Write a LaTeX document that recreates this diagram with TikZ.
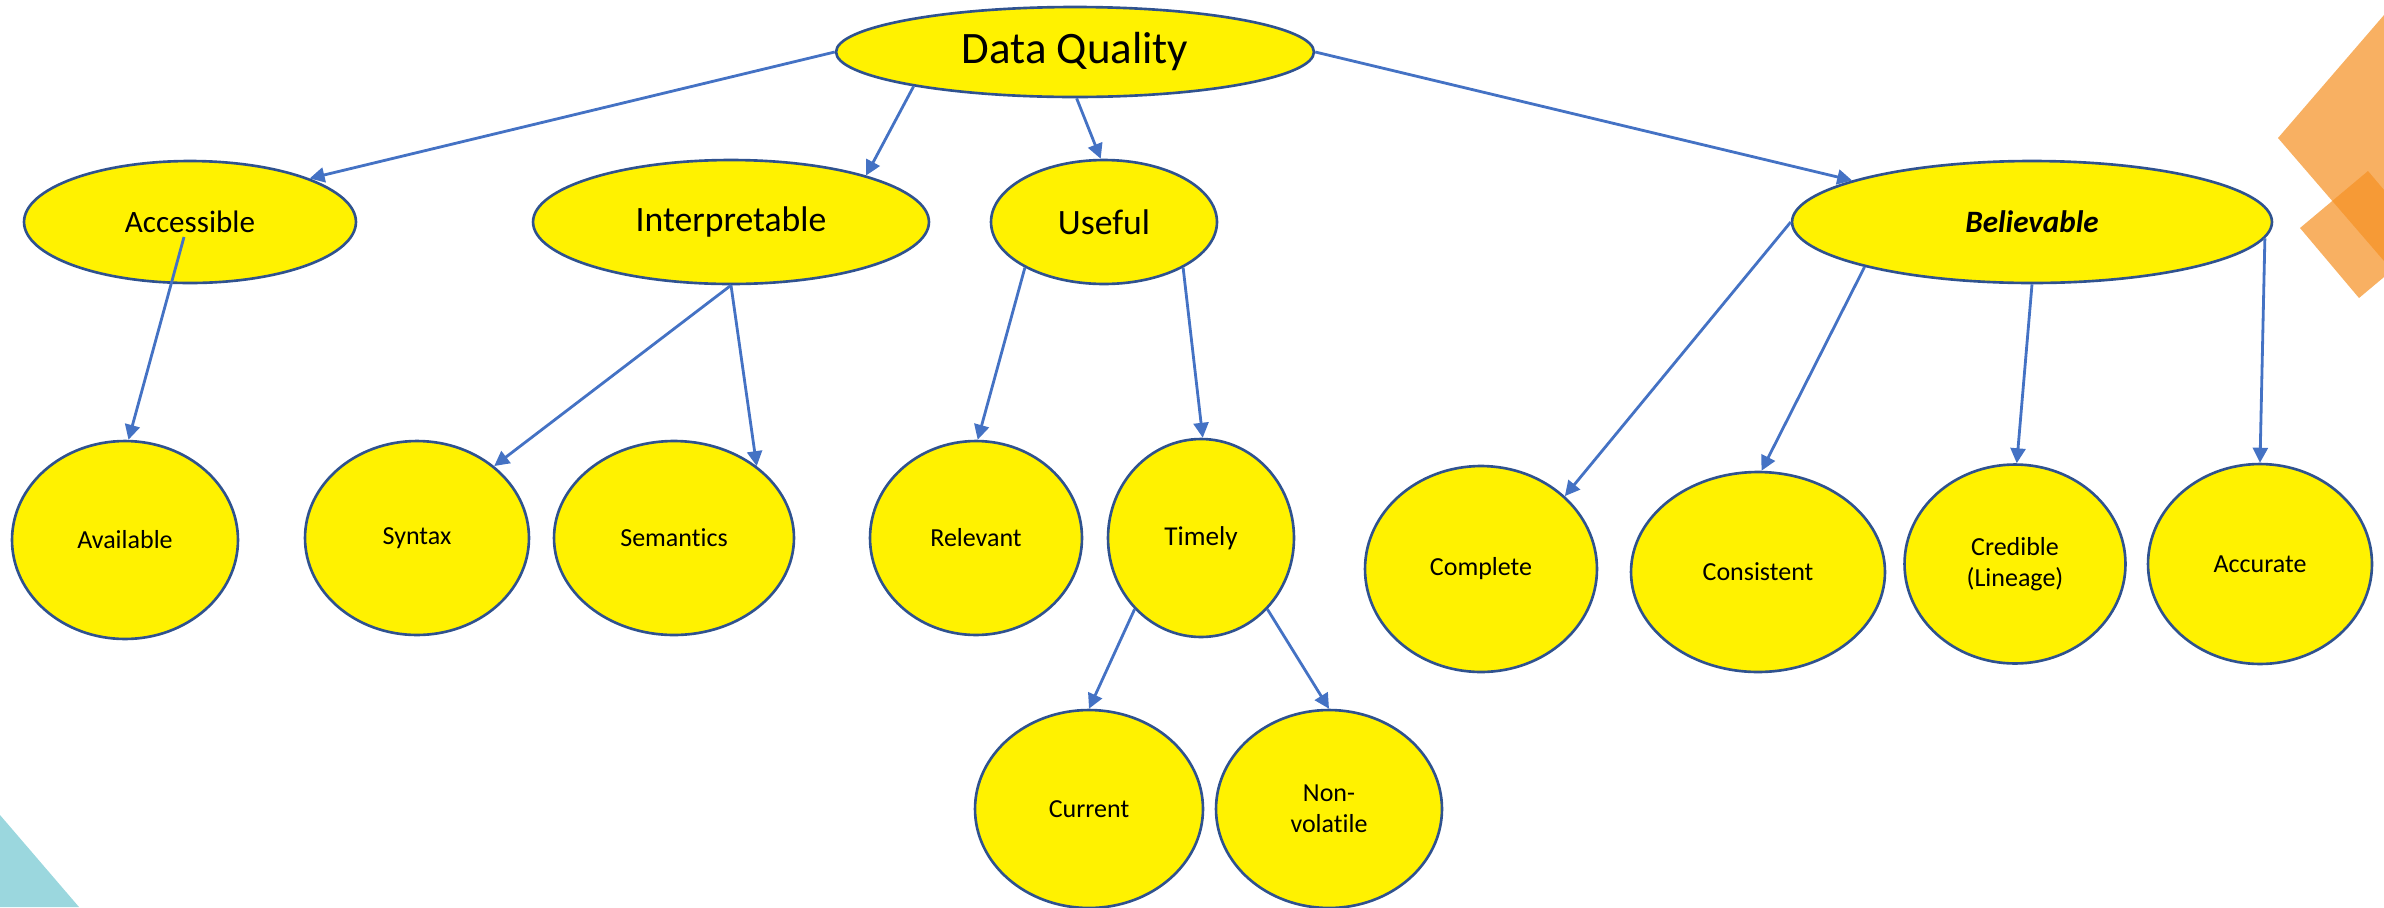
\documentclass[tikz,border=0pt]{standalone}
\usepackage{fontspec}
\setmainfont{Carlito}[Ligatures=NoCommon]
\usetikzlibrary{shapes.geometric,arrows.meta}
\definecolor{bubbleline}{HTML}{2F528F}
\definecolor{linkblue}{HTML}{4472C4}
\definecolor{decoorange}{RGB}{245,145,37}
\definecolor{decoteal}{HTML}{9BD7DE}
\begin{document}
\begin{tikzpicture}[x=0.02cm,y=-0.02cm,
  bubble/.style={ellipse,draw=bubbleline,line width=1.5pt,fill=yellow,inner sep=0pt,
    align=center,font=\fontsize{14.8}{17.8}\selectfont},
  dims/.style 2 args={minimum width=#1,minimum height=#2},
  link/.style={line width=1.6pt,draw=linkblue,-{Triangle[length=8.5pt,width=8.5pt,fill=linkblue]}}]
\useasboundingbox (0,0) rectangle (2384,907);
\clip (0,0) rectangle (2384,907);
% corner decoration
\fill[decoteal] (0,815)--(79,907)--(0,907)--cycle;
\fill[decoorange,opacity=0.72] (2278,138)--(2578,-210)--(2878,138)--(2578,486)--cycle;
\fill[decoorange,opacity=0.72] (2300,228)--(2368,171)--(2427,241)--(2359,298)--cycle;
% top
\node[bubble,dims={9.56cm}{1.8cm},font=\fontsize{25.6}{30}\selectfont] (dq) at (1075,52) {\raisebox{-2pt}{Data Quality}};
% second row
\node[bubble,dims={6.64cm}{2.44cm},font=\fontsize{17.7}{21}\selectfont] (acc) at (190,222) {Accessible};
\node[bubble,dims={7.92cm}{2.48cm},font=\fontsize{20.3}{24}\selectfont] (interp) at (731,222) {Interpretable};
\node[bubble,dims={4.52cm}{2.48cm},font=\fontsize{20.3}{24}\selectfont] (useful) at (1104,222) {Useful};
\node[bubble,dims={9.6cm}{2.44cm},font=\fontsize{17.7}{21}\selectfont\bfseries\itshape] (believ) at (2032,222) {Believable};
% third row
\node[bubble,dims={4.52cm}{3.96cm}] (avail) at (125,540) {Available};
\node[bubble,dims={4.48cm}{3.88cm}] (syntax) at (417,538) {Syntax};
\node[bubble,dims={4.8cm}{3.88cm}] (sem) at (674,538) {Semantics};
\node[bubble,dims={4.24cm}{3.88cm}] (relev) at (976,538) {Relevant};
\node[bubble,dims={3.72cm}{3.96cm},font=\fontsize{15.5}{18}\selectfont] (timely) at (1201,538) {Timely};
\node[bubble,dims={4.64cm}{4.12cm}] (complete) at (1481,569) {Complete};
\node[bubble,dims={5.08cm}{4cm}] (consist) at (1758,572) {Consistent};
\node[bubble,dims={4.42cm}{3.98cm}] (cred) at (2015,564) {Credible\\(Lineage)};
\node[bubble,dims={4.48cm}{4cm}] (accur) at (2260,564) {Accurate};
% bottom
\node[bubble,dims={4.56cm}{3.96cm}] (current) at (1089,809) {Current};
\node[bubble,dims={4.52cm}{3.96cm}] (nonvol) at (1329,809) {Non-\\volatile};
% arrows
\draw[link] (dq.180) -- (acc.20);
\draw[link] (dq.192) -- (interp.19);
\draw[link] (dq.-88) -- (useful.93);
\draw[link] (dq.0) -- (believ.167);
\draw[link] ([shift={(-6,15)}]acc.center) -- (avail.88);
\draw[link] (interp.270) -- (syntax.43);
\draw[link] (interp.270) -- (sem.41);
\draw[link] (useful.210) -- (relev.89);
\draw[link] (useful.-30) -- (timely.89);
\draw[link] (timely.-133) -- (current.90);
\draw[link] (timely.-47) -- (nonvol.90);
\draw[link] (believ.180) -- (complete.41);
\draw[link] (believ.195) -- (consist.88);
\draw[link] (believ.270) -- (cred.89);
\draw[link] (believ.-4) -- (accur.90);
\end{tikzpicture}
\end{document}
